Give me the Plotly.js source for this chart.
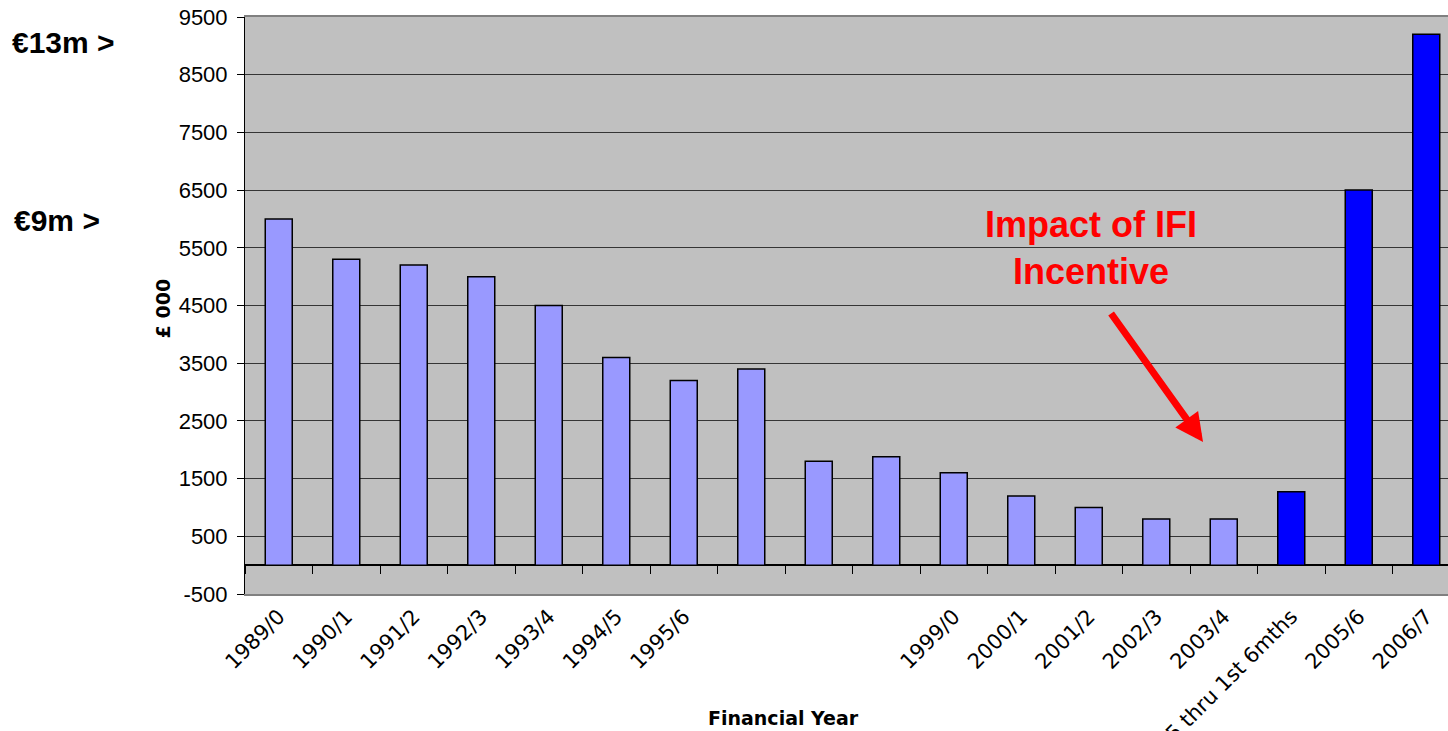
<!DOCTYPE html>
<html>
<head>
<meta charset="utf-8">
<script src="https://cdn.plot.ly/plotly-3.0.1.min.js"></script>
<style>
  html, body { margin: 0; padding: 0; background: #ffffff; overflow: hidden; }
  #chart { width: 1460px; height: 731px; }
</style>
</head>
<body>
<div id="chart"></div>
<script>
// Financial years (category ids) and the labels written under each bar
const years = ['1989/0', '1990/1', '1991/2', '1992/3', '1993/4', '1994/5', '1995/6',
               '1996/7', '1997/8', '1998/9', '1999/0', '2000/1', '2001/2', '2002/3',
               '2003/4', '2004/5', '2005/6', '2006/7'];
const yearLabels = ['1989/0', '1990/1', '1991/2', '1992/3', '1993/4', '1994/5', '1995/6',
                    '', '', '', '1999/0', '2000/1', '2001/2', '2002/3',
                    '2003/4', '2004/5 thru 1st 6mths', '2005/6', '2006/7'];
// Amounts in £000
const amounts = [6000, 5300, 5200, 5000, 4500, 3600, 3200, 3400, 1800, 1880,
                 1600, 1200, 1000, 800, 800, 1270, 6500, 9200];
// Years falling under the IFI incentive
const ifiYears = [false, false, false, false, false, false, false, false, false, false,
                  false, false, false, false, false, true, true, true];
// Value axis ticks
const yTicks = [-500, 500, 1500, 2500, 3500, 4500, 5500, 6500, 7500, 8500, 9500];

const barColours = ifiYears.map(f => f ? '#0000ff' : '#9999ff');

const bars = {
  type: 'bar',
  x: years,
  y: amounts,
  marker: { color: barColours, line: { color: '#000000', width: 1.5 } },
  hoverinfo: 'x+y',
  showlegend: false
};

// carrier for the category tick marks drawn along the zero line
const zeroTicks = {
  type: 'scatter',
  mode: 'markers',
  x: years,
  y: amounts,
  xaxis: 'x2',
  yaxis: 'y',
  marker: { opacity: 0, size: 1 },
  hoverinfo: 'skip',
  showlegend: false
};

const yMin = yTicks[0], yMax = yTicks[yTicks.length - 1];
const zeroFrac = (0 - yMin) / (yMax - yMin);

const layout = {
  width: 1460,
  height: 731,
  margin: { l: 245, r: 0, t: 17, b: 137 },
  paper_bgcolor: '#ffffff',
  plot_bgcolor: '#c0c0c0',
  bargap: 0.6,
  font: { family: 'Liberation Sans, Arial, sans-serif', color: '#000000' },
  xaxis: {
    type: 'category',
    categoryorder: 'array',
    categoryarray: years,
    range: [-0.5, years.length - 0.5],
    tickvals: years,
    ticktext: yearLabels,
    tickangle: -45,
    ticks: '',
    tickfont: { family: 'DejaVu Sans, Verdana, sans-serif', size: 21, color: '#000000' },
    showgrid: false,
    zeroline: false,
    showline: true,
    linecolor: '#808080',
    linewidth: 2,
    mirror: true,
    fixedrange: true
  },
  xaxis2: {
    type: 'category',
    overlaying: 'x',
    anchor: 'free',
    position: zeroFrac,
    side: 'bottom',
    categoryorder: 'array',
    categoryarray: years,
    range: [-0.5, years.length - 0.5],
    tickson: 'boundaries',
    ticks: 'outside',
    ticklen: 8,
    tickwidth: 1,
    tickcolor: '#000000',
    showticklabels: false,
    showgrid: false,
    zeroline: false,
    showline: false,
    fixedrange: true
  },
  yaxis: {
    range: [yMin, yMax],
    tickvals: yTicks,
    ticktext: yTicks.map(String),
    ticks: 'outside',
    ticklen: 7,
    tickcolor: '#000000',
    ticklabelstandoff: 5,
    tickfont: { family: 'Liberation Sans, Arial, sans-serif', size: 22, color: '#000000' },
    showgrid: true,
    gridcolor: '#353535',
    gridwidth: 1,
    zeroline: true,
    zerolinecolor: '#000000',
    zerolinewidth: 1.5,
    showline: true,
    linecolor: '#000000',
    linewidth: 1,
    fixedrange: true
  },
  annotations: [
    {
      text: '£ 000', textangle: -90,
      xref: 'paper', yref: 'paper', x: 0, y: 0.495, xshift: -82,
      xanchor: 'center', yanchor: 'middle', showarrow: false,
      font: { family: 'DejaVu Sans, Verdana, sans-serif', size: 19, color: '#000000', weight: 'bold' }
    },
    {
      text: '<b>Financial Year</b>',
      xref: 'paper', yref: 'paper', x: 0.4436, y: -0.215,
      xanchor: 'center', yanchor: 'middle', showarrow: false,
      font: { family: 'DejaVu Sans, Verdana, sans-serif', size: 19, color: '#000000' }
    },
    {
      text: '<b>€13m ></b>',
      xref: 'paper', yref: 'paper', x: -0.1934, y: 0.955,
      xanchor: 'left', yanchor: 'middle', showarrow: false,
      font: { family: 'Liberation Sans, Arial, sans-serif', size: 30, color: '#000000' }
    },
    {
      text: '<b>€9m ></b>',
      xref: 'paper', yref: 'paper', x: -0.1918, y: 0.648,
      xanchor: 'left', yanchor: 'middle', showarrow: false,
      font: { family: 'Liberation Sans, Arial, sans-serif', size: 30, color: '#000000' }
    },
    {
      text: '<b>Impact of IFI<br>Incentive</b>',
      xref: 'paper', yref: 'paper', x: 0.696, y: 0.6,
      xanchor: 'center', yanchor: 'middle', showarrow: false, align: 'center',
      font: { family: 'Liberation Sans, Arial, sans-serif', size: 36, color: '#ff0000' }
    },
    {
      text: '',
      xref: 'paper', yref: 'paper', x: 0.7885, y: 0.2634,
      axref: 'pixel', ayref: 'pixel', ax: -93, ay: -130,
      showarrow: true, arrowhead: 2, arrowsize: 0.8, arrowwidth: 7,
      arrowcolor: '#ff0000', standoff: 0
    }
  ]
};

Plotly.newPlot('chart', [bars, zeroTicks], layout, { displayModeBar: false, staticPlot: true });
</script>
</body>
</html>
